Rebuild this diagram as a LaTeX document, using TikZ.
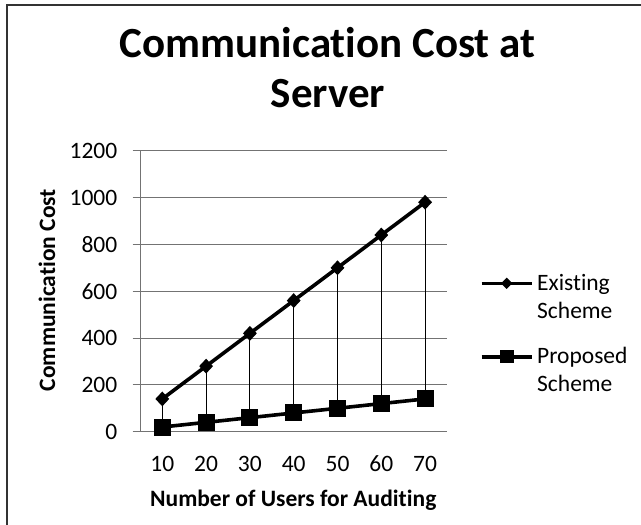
\documentclass[tikz,border=0pt]{standalone}
\usepackage{fontspec}
\setmainfont{Carlito}[Ligatures=CommonOff,RawFeature={-dlig}]
\usetikzlibrary{shapes.geometric}
\newcommand{\tiNoLig}{t\kern0pt i}
\begin{document}
\begin{tikzpicture}[x=1pt,y=-1pt,
  grid/.style={draw=black!55,line width=1pt},
  frameline/.style={draw=black!80,line width=1.6pt},
  series/.style={draw=black,line width=3.6pt},
  drop/.style={draw=black,line width=0.9pt},
  dmark/.style={diamond,fill=black,inner sep=0pt,minimum width=14pt,minimum height=15pt},
  smark/.style={rectangle,fill=black,inner sep=0pt,minimum width=17pt,minimum height=17pt},
  ldmark/.style={diamond,fill=black,inner sep=0pt,minimum width=11.5pt,minimum height=11.5pt},
  lsmark/.style={rectangle,fill=black,inner sep=0pt,minimum width=14pt,minimum height=13pt},
  tick/.style={font=\fontsize{23.5}{26}\selectfont,inner sep=0pt},
  legtext/.style={font=\fontsize{23.5}{28}\selectfont,inner sep=0pt,anchor=base west},
  axlabel/.style={font=\fontsize{23.5}{26}\selectfont\bfseries,inner sep=0pt},
  titletext/.style={font=\fontsize{43}{50}\selectfont\bfseries,inner sep=0pt,anchor=base}
]
\useasboundingbox (0,0) rectangle (641,525);
\fill[white] (0,0) rectangle (641,525);
% frame (top and left only visible)
\coordinate (ftl) at (7,5);
\coordinate (ftr) at (641,5);
\coordinate (fbl) at (7,525);
\draw[frameline] (ftr) -- (ftl) -- (fbl);
% title
\node[titletext] (title1) at (327.5,57) {Communica\tiNoLig on Cost at};
\node[titletext] (title2) at (328,107.5) {Server};
% grid
\foreach \v/\yy in {0/431.7,200/384.9,400/338.0,600/291.2,800/244.3,1000/197.5,1200/150.7}{
  \coordinate (gl\v) at (132.5,\yy);
  \coordinate (gr\v) at (446.7,\yy);
  \draw[grid] (gl\v) -- (gr\v);
  \node[tick,anchor=east] (yl\v) at (117.5,\yy) {\v};
}
\coordinate (axt) at (140,150.7);
\coordinate (axb) at (140,431.7);
\draw[grid] (axt) -- (axb);
% x tick labels
\foreach \i/\lab in {0/10,1/20,2/30,3/40,4/50,5/60,6/70}{
  \node[tick] (xl\i) at ({162.3+43.8*\i},464) {\lab};
}
% axis titles
\node[axlabel] (xtitle) at (293.3,500) {Number of Users for Audi\tiNoLig ng};
\node[axlabel,rotate=90] (ytitle) at (47,290) {Communica\tiNoLig on Cost};
% data points
\foreach \i/\e/\p in {0/140/20,1/280/40,2/420/60,3/560/80,4/700/100,5/840/120,6/980/140}{
  \coordinate (e\i) at ({162.3+43.8*\i},{431.7-\e*0.234167});
  \coordinate (p\i) at ({162.3+43.8*\i},{431.7-\p*0.234167});
}
% drop lines
\foreach \i in {0,...,6}{ \draw[drop] (e\i) -- (p\i); }
% series lines
\draw[series,line join=round] (e0) -- (e1) -- (e2) -- (e3) -- (e4) -- (e5) -- (e6);
\draw[series,line join=round] (p0) -- (p1) -- (p2) -- (p3) -- (p4) -- (p5) -- (p6);
% markers
\foreach \i in {0,...,6}{
  \node[dmark] (em\i) at (e\i) {};
  \node[smark] (pm\i) at (p\i) {};
}
% legend
\coordinate (l1a) at (481.7,283.3);
\coordinate (l1b) at (531.7,283.3);
\draw[series] (l1a) -- (l1b);
\node[ldmark] (l1m) at (506.7,283.3) {};
\node[legtext] (l1t) at (537,290.5) {Exis\tiNoLig ng};
\node[legtext] (l1s) at (537,318.5) {Scheme};
\coordinate (l2a) at (481.7,356.7);
\coordinate (l2b) at (531.7,356.7);
\draw[series] (l2a) -- (l2b);
\node[lsmark] (l2m) at (506.7,356.7) {};
\node[legtext] (l2t) at (537,363.5) {Proposed};
\node[legtext] (l2s) at (537,391.5) {Scheme};
\end{tikzpicture}
\end{document}
